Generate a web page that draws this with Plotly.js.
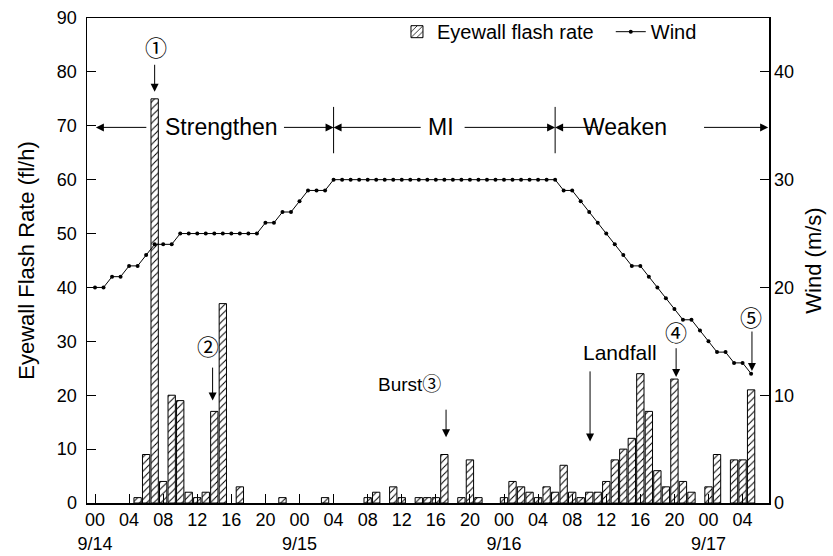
<!DOCTYPE html>
<html>
<head>
<meta charset="utf-8">
<script src="https://cdn.plot.ly/plotly-3.0.1.min.js"></script>
<style>html,body{margin:0;padding:0;background:#fff;}#chart{width:833px;height:556px;}</style>
</head>
<body>
<div id="chart"></div>
<script>
// Hours since 9/14 00 UTC
const barHours = [5,6,7,8,9,10,11,12,13,14,15,17,22,27,32,33,35,36,38,39,40,41,43,44,45,48,49,50,51,52,53,54,55,56,57,58,59,60,61,62,63,64,65,66,67,68,69,70,72,73,75,76,77];
const flashRate = [1,9,75,4,20,19,2,1,2,17,37,3,1,1,1,2,3,1,1,1,1,9,1,8,1,1,4,3,2,1,3,2,7,2,1,2,2,4,8,10,12,24,17,6,3,23,4,2,3,9,8,8,21];

const windHours = [];
for (let h = 0; h <= 77; h++) windHours.push(h);
const wind = [20,20,21,21,22,22,23,24,24,24,
  25,25,25,25,25,25,25,25,25,25,
  26,26,27,27,28,29,29,29,
  30,30,30,30,30,30,30,30,30,30,30,30,30,30,30,30,30,30,30,30,30,30,30,30,30,30,30,
  29,29,28,27,26,25,24,23,22,22,21,20,19,18,17,17,16,15,14,14,13,13,12];

const tickVals = [0,4,8,12,16,20,24,28,32,36,40,44,48,52,56,60,64,68,72,76];
const tickText = ['00<br>9/14','04','08','12','16','20','00<br>9/15','04','08','12','16','20','00<br>9/16','04','08','12','16','20','00<br>9/17','04'];

const phaseBounds = [28, 54];
const phaseLabels = ['Strengthen','MI','Weaken'];

const FONT = 'Arial, "Liberation Sans", "Noto Sans CJK SC", sans-serif';
const CJK = '"Noto Sans CJK SC", "DejaVu Sans", sans-serif';

const traces = [
  {
    type: 'bar', x: barHours, y: flashRate, name: 'Eyewall flash rate',
    marker: {color: 'white', line: {color: 'black', width: 1},
      pattern: {shape: '/', fgcolor: 'black', bgcolor: 'white', size: 5, solidity: 0.2}},
    yaxis: 'y', legend: 'legend'
  },
  {
    type: 'scatter', mode: 'lines+markers', x: windHours, y: wind, name: 'Wind',
    line: {color: 'black', width: 1}, marker: {color: 'black', size: 4},
    yaxis: 'y2', legend: 'legend2'
  }
];

const AY = 69.7;
function arrow(x, y, ax, ay) {
  return {x: x, y: y, ax: ax, ay: ay, xref: 'x', yref: 'y', axref: 'x', ayref: 'y',
    text: '', showarrow: true, arrowhead: 2, arrowsize: 1.6, arrowwidth: 1, arrowcolor: 'black', standoff: 0, startstandoff: 0};
}
function label(x, y, t, size, fam) {
  return {x: x, y: y, xref: 'x', yref: 'y', text: t, showarrow: false,
    font: {family: fam || FONT, size: size || 22, color: 'black'}, xanchor: 'center', yanchor: 'middle'};
}

const annotations = [
  // phase arrows
  arrow(0.1, AY, 6.2, AY),
  arrow(phaseBounds[0], AY, 22, AY),
  label(14.9, AY, phaseLabels[0], 23),
  arrow(phaseBounds[0], AY, 38.4, AY),
  arrow(phaseBounds[1], AY, 43.2, AY),
  label(40.6, AY, phaseLabels[1], 23),
  arrow(phaseBounds[1], AY, 59.2, AY),
  arrow(79.0, AY, 71.3, AY),
  label(62.2, AY, phaseLabels[2], 23),
  // event markers
  label(7.2, 84.8, '①', 22, CJK),
  arrow(7, 76.3, 7, 81.6),
  label(13.3, 29.3, '②', 22, CJK),
  arrow(13.8, 19.0, 13.8, 25.4),
  {x: 36.9, y: 22.4, xref: 'x', yref: 'y', showarrow: false, xanchor: 'center', yanchor: 'middle',
   text: 'Burst<span style="font-family:' + "'Noto Sans CJK SC'" + '">③</span>', font: {family: FONT, size: 19, color: 'black'}},
  arrow(41.2, 12.2, 41.2, 17.6),
  label(61.6, 28, 'Landfall', 21),
  arrow(58.1, 11.4, 58.1, 24.7),
  label(68.2, 31.9, '④', 22, CJK),
  arrow(68.2, 23.4, 68.2, 29),
  label(77, 34.7, '⑤', 22, CJK),
  arrow(77.1, 24.5, 77.1, 32.1)
];

const shapes = phaseBounds.map(b => ({type: 'line', xref: 'x', yref: 'y', x0: b, x1: b, y0: 64.9, y1: 73.5,
  line: {color: 'black', width: 1}}));

const legendCommon = {orientation: 'h', y: 1.012, xanchor: 'left', yanchor: 'top',
  font: {size: 20}, bgcolor: 'rgba(0,0,0,0)', itemwidth: 30};

const layout = {
  width: 833, height: 556,
  margin: {l: 87, r: 64, t: 18, b: 53, pad: 0},
  paper_bgcolor: 'white', plot_bgcolor: 'white',
  font: {family: FONT, size: 18, color: 'black'},
  bargap: 0.14,
  showlegend: true,
  legend: Object.assign({}, legendCommon, {x: 0.4545}),
  legend2: Object.assign({}, legendCommon, {x: 0.768}),
  xaxis: {range: [-0.94, 79.1], tickvals: tickVals, ticktext: tickText, ticks: 'inside', ticklen: 9,
    tickcolor: 'black', showline: true, linecolor: 'black', linewidth: 1.5, mirror: true,
    showgrid: false, zeroline: false, tickfont: {size: 18}},
  yaxis: {range: [0, 90], dtick: 10, ticks: 'inside', ticklen: 9, tickcolor: 'black',
    showline: true, linecolor: 'black', linewidth: 1.5, showgrid: false, zeroline: false, ticklabelstandoff: 5,
    title: {text: 'Eyewall Flash Rate (fl/h)', font: {size: 22}, standoff: 16}, tickfont: {size: 18}},
  yaxis2: {range: [0, 45], dtick: 10, overlaying: 'y', side: 'right', ticks: 'inside', ticklen: 9,
    tickcolor: 'black', showline: true, linecolor: 'black', linewidth: 1.5, showgrid: false, zeroline: false,
    title: {text: 'Wind (m/s)', font: {size: 22}, standoff: 12}, tickfont: {size: 18}},
  annotations: annotations,
  shapes: shapes
};

Plotly.newPlot('chart', traces, layout, {displayModeBar: false, staticPlot: true});
</script>
</body>
</html>
